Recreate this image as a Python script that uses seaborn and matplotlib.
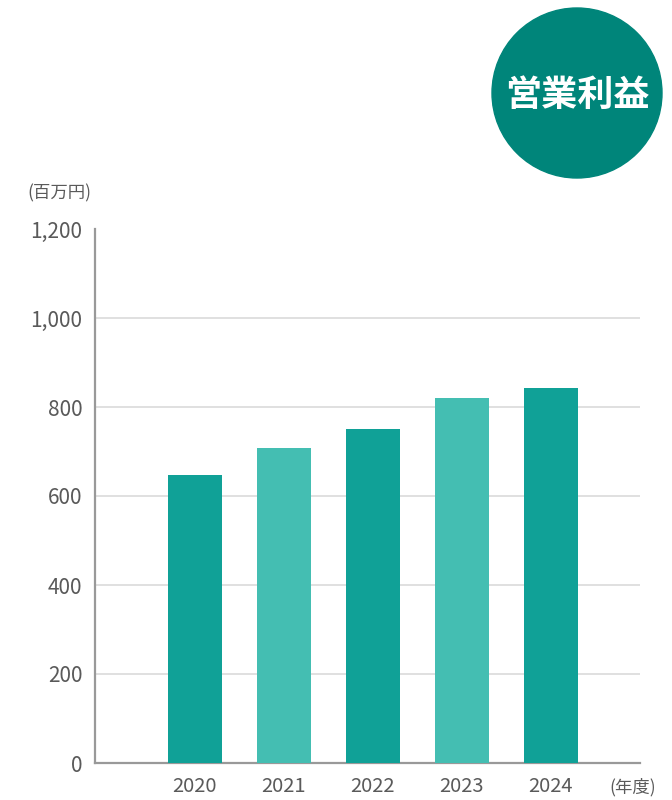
import matplotlib
matplotlib.use('Agg')
import matplotlib.pyplot as plt
import seaborn as sns
import pandas as pd
from matplotlib.patches import Circle

# データ
years = ['2020', '2021', '2022', '2023', '2024']
operating_profit = [647, 708, 751, 820, 843]
y_ticks = [0, 200, 400, 600, 800, 1000, 1200]
bar_colors = ['#10a197', '#44beb2', '#10a197', '#44beb2', '#10a197']

sns.set_style('white')
plt.rcParams['font.family'] = ['Noto Sans CJK JP', 'DejaVu Sans']

df = pd.DataFrame({'year': years, 'value': operating_profit})

fig = plt.figure(figsize=(6.72, 8), dpi=100)
ax = fig.add_axes([95 / 672, 37 / 800, 545 / 672, 534 / 800])

sns.barplot(data=df, x='year', y='value', hue='year', palette=bar_colors,
            width=0.61, legend=False, ax=ax, saturation=1, linewidth=0,
            zorder=3)

ax.set_xlim(-1.12, 5.0)
ax.set_ylim(0, 1200)
ax.set_yticks(y_ticks)
ax.set_yticklabels([f'{v:,}' for v in y_ticks])
ax.set_xlabel('')
ax.set_ylabel('')

# 目盛線
for v in y_ticks[1:-1]:
    ax.axhline(v, color='#dddddd', lw=1.3, zorder=1)

for s in ['top', 'right']:
    ax.spines[s].set_visible(False)
for s in ['left', 'bottom']:
    ax.spines[s].set_color('#999999')
    ax.spines[s].set_linewidth(1.6)

ax.tick_params(axis='y', direction='in', length=9.5, width=1.6, color='#999999',
               labelsize=15, labelcolor='#5a5a5a', pad=9)
ax.tick_params(axis='x', length=0, labelsize=14.5, labelcolor='#5a5a5a', pad=9)

fig.text(27 / 672, 1 - 193 / 800, '(百万円)', fontsize=12.5, color='#5a5a5a',
         va='center', ha='left')
fig.text(656 / 672, 1 - 787 / 800, '(年度)', fontsize=12.5, color='#5a5a5a',
         va='center', ha='right')

# 右上の円
circ = Circle((5.77, 8 - 0.93), 0.85, transform=fig.dpi_scale_trans,
              color='#00857a', zorder=5)
fig.patches.append(circ)
fig.text(577 / 672, 1 - 95 / 800, '営業利益', fontsize=26, fontweight='bold',
         color='white', ha='center', va='center', zorder=6)

fig.savefig('out.png', dpi=100)
